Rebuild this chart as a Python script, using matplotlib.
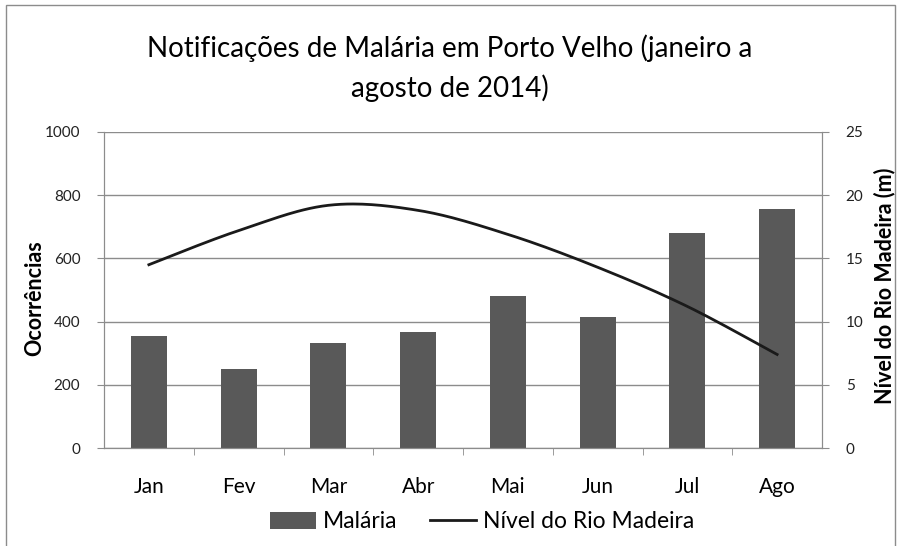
import matplotlib.pyplot as plt
from matplotlib.lines import Line2D
from matplotlib.patches import Patch, Rectangle
import numpy as np

plt.rcParams['font.family'] = ['Lato', 'DejaVu Sans']

# Data
months = ['Jan', 'Fev', 'Mar', 'Abr', 'Mai', 'Jun', 'Jul', 'Ago']
malaria = [356, 251, 332, 366, 480, 413, 681, 757]
nivel_rio = [14.5, 17.2, 19.2, 18.8, 16.9, 14.3, 11.2, 7.4]


def smooth_line(x, y, steps=30):
    # Catmull-Rom style smoothing, like a spreadsheet "smoothed line"
    x = np.asarray(x, float)
    y = np.asarray(y, float)
    px = np.concatenate([[x[0]], x, [x[-1]]])
    py = np.concatenate([[y[0]], y, [y[-1]]])
    xs, ys = [], []
    for i in range(1, len(px) - 2):
        t = np.linspace(0, 1, steps)
        c1x = px[i] + (px[i + 1] - px[i - 1]) / 6
        c1y = py[i] + (py[i + 1] - py[i - 1]) / 6
        c2x = px[i + 1] - (px[i + 2] - px[i]) / 6
        c2y = py[i + 1] - (py[i + 2] - py[i]) / 6
        bx = (1 - t)**3 * px[i] + 3 * (1 - t)**2 * t * c1x + 3 * (1 - t) * t**2 * c2x + t**3 * px[i + 1]
        by = (1 - t)**3 * py[i] + 3 * (1 - t)**2 * t * c1y + 3 * (1 - t) * t**2 * c2y + t**3 * py[i + 1]
        xs.extend(bx)
        ys.extend(by)
    return np.array(xs), np.array(ys)


fig = plt.figure(figsize=(8.99, 5.46), dpi=100)
fig.patches.append(Rectangle((0.007, -0.01), 0.988, 1.0, transform=fig.transFigure,
                             fill=False, edgecolor='#8c8c8c', linewidth=1.0))

ax = fig.add_axes([104 / 899, 1 - 448 / 546, 718 / 899, 316 / 546])
ax2 = ax.twinx()

x = np.arange(len(months))
ax.bar(x, malaria, width=0.4, color='#595959', zorder=2)
ax.set_ylim(0, 1000)
ax.set_yticks(np.arange(0, 1001, 200))
ax.set_xlim(-0.5, len(months) - 0.5)
ax.set_xticks(x)
ax.set_xticklabels(months, fontsize=15)
ax.set_xticks(np.arange(0.5, len(months) - 0.5, 1), minor=True)
ax.tick_params(axis='x', which='major', length=0, pad=21)
ax.tick_params(axis='x', which='minor', length=5, color='#8c8c8c', direction='out')
ax.tick_params(axis='y', length=5, color='#8c8c8c', labelsize=11, labelcolor='#222222', pad=12)
ax.grid(axis='y', color='#8c8c8c', linewidth=1.0, zorder=0)
ax.set_axisbelow(True)

for spine in ['top']:
    ax.spines[spine].set_visible(False)
    ax2.spines[spine].set_visible(False)
for a in (ax, ax2):
    for spine in ['left', 'right', 'bottom']:
        a.spines[spine].set_color('#8c8c8c')

lx, ly = smooth_line(x, nivel_rio)
ax2.plot(lx, ly, color='#1a1a1a', linewidth=2.0, zorder=3)
ax2.set_ylim(0, 25)
ax2.set_yticks(np.arange(0, 26, 5))
ax2.tick_params(axis='y', length=5, color='#8c8c8c', labelsize=11, labelcolor='#222222', pad=12)

# axis titles
fig.text(35 / 899, 1 - 298 / 546, 'Ocorrências', rotation=90, ha='center', va='center',
         fontsize=15.5, fontweight='bold')
fig.text(885 / 899, 1 - 286 / 546, 'Nível do Rio Madeira (m)', rotation=90, ha='center',
         va='center', fontsize=15.5, fontweight='bold')

fig.text(0.5, 1 - 48 / 546, 'Notificações de Malária em Porto Velho (janeiro a',
         ha='center', va='center', fontsize=20)
fig.text(0.5, 1 - 88 / 546, 'agosto de 2014)', ha='center', va='center', fontsize=20)

handles = [Patch(facecolor='#595959', edgecolor='none'),
           Line2D([0], [0], color='#1a1a1a', linewidth=2.0)]
fig.legend(handles, ['Malária', 'Nível do Rio Madeira'], loc='center',
           bbox_to_anchor=(482 / 899, 1 - 522 / 546), ncol=2, frameon=False, fontsize=16.5,
           handlelength=2.0, handletextpad=0.3, columnspacing=1.45)

fig.savefig('out.png', dpi=100)
